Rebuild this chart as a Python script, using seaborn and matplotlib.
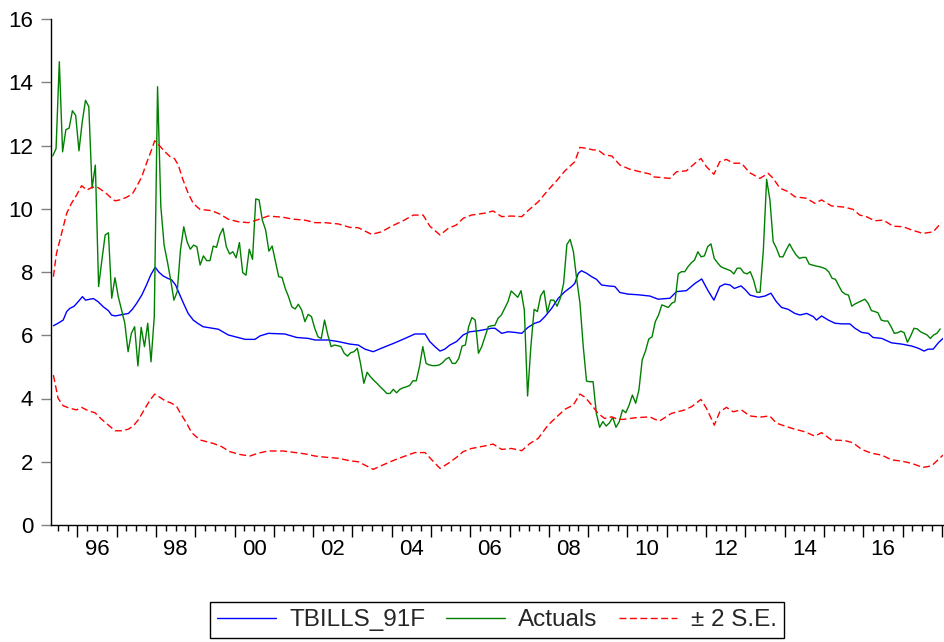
import numpy as np
import pandas as pd
import matplotlib
matplotlib.use("Agg")
import matplotlib.pyplot as plt
import seaborn as sns

# ---------------- data ----------------
# Actuals: monthly, first observation May 1995
actual_start_year = 1995
actual_start_month = 5
actuals = [
    11.67, 11.9, 14.65, 11.8, 12.5, 12.55, 13.1, 12.95, 11.83, 12.75, 13.43, 13.23,
    10.65, 11.38, 7.54, 8.38, 9.17, 9.24, 7.17, 7.82, 7.22, 6.8, 6.38, 5.48,
    6.06, 6.27, 5.03, 6.25, 5.64, 6.38, 5.16, 6.59, 13.86, 10.07, 8.85, 8.33,
    7.75, 7.11, 7.38, 8.7, 9.43, 8.96, 8.72, 8.85, 8.8, 8.22, 8.51, 8.36,
    8.36, 8.82, 8.78, 9.17, 9.38, 8.8, 8.57, 8.64, 8.45, 8.93, 7.98, 7.9,
    8.72, 8.4, 10.31, 10.28, 9.64, 9.33, 8.66, 8.82, 8.33, 7.85, 7.83, 7.48,
    7.22, 6.9, 6.83, 6.98, 6.8, 6.43, 6.66, 6.59, 6.22, 5.95, 5.9, 6.48,
    6.01, 5.64, 5.69, 5.67, 5.64, 5.43, 5.34, 5.45, 5.48, 5.59, 5.1, 4.48,
    4.83, 4.69, 4.58, 4.48, 4.37, 4.27, 4.16, 4.16, 4.29, 4.18, 4.29, 4.34,
    4.37, 4.41, 4.56, 4.56, 5.01, 5.64, 5.11, 5.06, 5.04, 5.04, 5.06, 5.13,
    5.24, 5.30, 5.11, 5.11, 5.27, 5.66, 5.69, 6.27, 6.56, 6.48, 5.43, 5.64,
    5.95, 6.27, 6.30, 6.31, 6.54, 6.64, 6.85, 7.06, 7.40, 7.30, 7.20, 7.41,
    6.80, 4.08, 5.64, 6.82, 6.75, 7.25, 7.41, 6.72, 7.11, 7.11, 6.92, 7.17,
    7.64, 8.87, 9.03, 8.64, 7.77, 7.01, 5.64, 4.55, 4.53, 4.53, 3.53, 3.09,
    3.27, 3.13, 3.23, 3.40, 3.09, 3.27, 3.64, 3.55, 3.79, 4.11, 3.85, 4.27,
    5.22, 5.5, 5.88, 5.95, 6.43, 6.64, 6.96, 6.92, 6.88, 7.01, 7.06, 7.94,
    8.01, 8.01, 8.17, 8.29, 8.38, 8.64, 8.48, 8.51, 8.80, 8.89, 8.43, 8.29,
    8.17, 8.12, 8.08, 8.04, 7.94, 8.12, 8.12, 7.98, 7.94, 8.01, 7.75, 7.36,
    7.36, 8.70, 10.93, 10.28, 8.96, 8.75, 8.48, 8.48, 8.70, 8.89, 8.70, 8.54,
    8.43, 8.46, 8.46, 8.25, 8.22, 8.19, 8.17, 8.14, 8.1, 8.0, 7.80, 7.77,
    7.57, 7.38, 7.30, 7.27, 6.92, 6.99, 7.04, 7.09, 7.14, 7.01, 6.78, 6.75,
    6.71, 6.48, 6.45, 6.45, 6.27, 6.06, 6.08, 6.13, 6.08, 5.78, 5.98, 6.22,
    6.20, 6.11, 6.06, 6.01, 5.90, 6.01, 6.06, 6.2,
]

# Forecast (TBILLS_91F), read at these dates (decimal years)
forecast_t = [
    1995.39, 1995.51, 1995.64, 1995.73, 1995.81, 1995.92, 1996.02, 1996.13, 1996.21, 1996.32,
    1996.41, 1996.53, 1996.66, 1996.79, 1996.87, 1996.96, 1997.04, 1997.17, 1997.30, 1997.40,
    1997.51, 1997.64, 1997.76, 1997.87, 1997.98, 1998.08, 1998.19, 1998.30, 1998.40, 1998.50,
    1998.61, 1998.72, 1998.82, 1998.95, 1999.06, 1999.20, 1999.59, 1999.84, 2000.27, 2000.52,
    2000.65, 2000.86, 2001.28, 2001.58, 2001.88, 2002.05, 2002.38, 2002.64, 2002.94, 2003.15,
    2003.32, 2003.53, 2003.74, 2004.08, 2004.34, 2004.59, 2004.85, 2004.97, 2005.10, 2005.23,
    2005.35, 2005.48, 2005.65, 2005.82, 2005.99, 2006.20, 2006.54, 2006.63, 2006.80, 2006.96,
    2007.14, 2007.31, 2007.47, 2007.64, 2007.77, 2007.90, 2008.07, 2008.24, 2008.41, 2008.58,
    2008.66, 2008.75, 2008.83, 2008.96, 2009.09, 2009.21, 2009.34, 2009.51, 2009.68, 2009.81,
    2010.02, 2010.27, 2010.57, 2010.78, 2011.08, 2011.25, 2011.50, 2011.72, 2011.89, 2012.05,
    2012.20, 2012.35, 2012.48, 2012.61, 2012.72, 2012.89, 2012.99, 2013.12, 2013.33, 2013.50,
    2013.65, 2013.79, 2013.92, 2014.09, 2014.26, 2014.39, 2014.56, 2014.73, 2014.81, 2014.94,
    2015.11, 2015.28, 2015.45, 2015.66, 2015.79, 2015.96, 2016.13, 2016.25, 2016.47, 2016.72,
    2016.98, 2017.23, 2017.40, 2017.55, 2017.65, 2017.78, 2017.91, 2018.03,
]
forecast = [
    6.30, 6.38, 6.48, 6.75, 6.85, 6.92, 7.06, 7.22, 7.11, 7.14,
    7.16, 7.06, 6.90, 6.78, 6.64, 6.61, 6.63, 6.66, 6.69, 6.82,
    7.01, 7.27, 7.59, 7.91, 8.15, 7.99, 7.87, 7.80, 7.75, 7.59,
    7.27, 6.96, 6.69, 6.48, 6.38, 6.27, 6.19, 6.01, 5.87, 5.87,
    5.98, 6.06, 6.04, 5.93, 5.90, 5.85, 5.85, 5.80, 5.72, 5.69,
    5.56, 5.48, 5.59, 5.76, 5.90, 6.04, 6.04, 5.80, 5.64, 5.50,
    5.56, 5.69, 5.80, 6.01, 6.11, 6.14, 6.22, 6.22, 6.06, 6.11,
    6.09, 6.06, 6.25, 6.38, 6.43, 6.59, 6.85, 7.17, 7.38, 7.54,
    7.64, 7.96, 8.04, 7.96, 7.85, 7.77, 7.59, 7.56, 7.54, 7.35,
    7.30, 7.28, 7.24, 7.14, 7.17, 7.38, 7.41, 7.64, 7.78, 7.41,
    7.11, 7.54, 7.62, 7.59, 7.48, 7.56, 7.45, 7.27, 7.20, 7.24,
    7.33, 7.06, 6.88, 6.82, 6.69, 6.64, 6.69, 6.59, 6.48, 6.61,
    6.48, 6.38, 6.36, 6.36, 6.22, 6.09, 6.06, 5.93, 5.90, 5.76,
    5.72, 5.66, 5.59, 5.50, 5.56, 5.56, 5.76, 5.90,
]

# Upper band (+2 S.E.)
upper_t = [
    1995.39, 1995.47, 1995.60, 1995.73, 1995.85, 1995.98, 1996.11, 1996.24, 1996.36, 1996.49,
    1996.62, 1996.75, 1996.87, 1996.96, 1997.08, 1997.25, 1997.40, 1997.51, 1997.64, 1997.76,
    1997.87, 1997.97, 1998.10, 1998.23, 1998.36, 1998.47, 1998.57, 1998.69, 1998.82, 1998.95,
    1999.12, 1999.42, 1999.63, 1999.84, 2000.09, 2000.35, 2000.56, 2000.86, 2001.24, 2001.49,
    2001.79, 2002.05, 2002.30, 2002.64, 2002.94, 2003.15, 2003.49, 2003.74, 2004.00, 2004.29,
    2004.55, 2004.80, 2004.97, 2005.23, 2005.44, 2005.65, 2005.82, 2006.03, 2006.37, 2006.58,
    2006.80, 2007.05, 2007.31, 2007.47, 2007.73, 2007.98, 2008.20, 2008.41, 2008.66, 2008.79,
    2008.96, 2009.13, 2009.25, 2009.42, 2009.60, 2009.81, 2010.06, 2010.32, 2010.57, 2010.65,
    2011.08, 2011.25, 2011.50, 2011.72, 2011.87, 2012.01, 2012.20, 2012.35, 2012.52, 2012.69,
    2012.90, 2013.11, 2013.37, 2013.58, 2013.71, 2013.88, 2014.09, 2014.26, 2014.56, 2014.77,
    2014.94, 2015.19, 2015.53, 2015.74, 2015.91, 2016.08, 2016.29, 2016.51, 2016.76, 2017.02,
    2017.23, 2017.52, 2017.78, 2017.99,
]
upper = [
    7.85, 8.59, 9.22, 9.86, 10.17, 10.43, 10.73, 10.59, 10.67, 10.70,
    10.59, 10.47, 10.33, 10.25, 10.28, 10.36, 10.47, 10.70, 11.01, 11.44,
    11.80, 12.15, 11.98, 11.80, 11.65, 11.59, 11.38, 10.91, 10.49, 10.17,
    9.98, 9.94, 9.83, 9.67, 9.59, 9.56, 9.64, 9.77, 9.73, 9.67,
    9.64, 9.56, 9.56, 9.52, 9.41, 9.40, 9.19, 9.27, 9.45, 9.62,
    9.80, 9.80, 9.45, 9.17, 9.38, 9.49, 9.70, 9.80, 9.86, 9.93,
    9.75, 9.77, 9.75, 9.94, 10.22, 10.59, 10.89, 11.20, 11.49, 11.94,
    11.91, 11.86, 11.86, 11.70, 11.67, 11.38, 11.25, 11.17, 11.10, 11.01,
    10.96, 11.17, 11.20, 11.44, 11.59, 11.33, 11.09, 11.49, 11.56, 11.44,
    11.44, 11.14, 10.96, 11.12, 10.96, 10.65, 10.54, 10.38, 10.33, 10.17,
    10.28, 10.09, 10.05, 9.98, 9.80, 9.75, 9.62, 9.64, 9.45, 9.43,
    9.33, 9.22, 9.27, 9.56,
]

# Lower band (-2 S.E.)
lower_t = [
    1995.39, 1995.51, 1995.64, 1995.81, 1995.98, 1996.11, 1996.28, 1996.45, 1996.62, 1996.79,
    1996.96, 1997.13, 1997.30, 1997.42, 1997.55, 1997.70, 1997.85, 1997.97, 1998.10, 1998.23,
    1998.40, 1998.53, 1998.65, 1998.78, 1998.91, 1999.12, 1999.46, 1999.67, 1999.88, 2000.14,
    2000.39, 2000.60, 2000.86, 2001.24, 2001.49, 2001.79, 2002.05, 2002.34, 2002.64, 2002.94,
    2003.15, 2003.53, 2003.78, 2004.08, 2004.34, 2004.59, 2004.85, 2005.02, 2005.23, 2005.44,
    2005.65, 2005.82, 2006.03, 2006.37, 2006.58, 2006.80, 2007.05, 2007.31, 2007.52, 2007.73,
    2007.98, 2008.20, 2008.41, 2008.62, 2008.79, 2008.92, 2009.09, 2009.25, 2009.42, 2009.60,
    2009.76, 2009.89, 2010.19, 2010.57, 2010.70, 2010.82, 2011.12, 2011.46, 2011.63, 2011.87,
    2012.01, 2012.21, 2012.35, 2012.52, 2012.69, 2012.90, 2013.11, 2013.37, 2013.62, 2013.79,
    2014.05, 2014.26, 2014.51, 2014.77, 2014.94, 2015.19, 2015.53, 2015.74, 2015.96, 2016.21,
    2016.47, 2016.72, 2016.98, 2017.23, 2017.52, 2017.74, 2018.03,
]
lower = [
    4.74, 4.01, 3.77, 3.69, 3.64, 3.72, 3.61, 3.55, 3.34, 3.16,
    2.98, 2.98, 3.03, 3.13, 3.32, 3.64, 3.95, 4.14, 4.04, 3.93,
    3.85, 3.74, 3.48, 3.22, 2.92, 2.69, 2.58, 2.48, 2.32, 2.23,
    2.18, 2.27, 2.34, 2.34, 2.30, 2.25, 2.18, 2.14, 2.11, 2.03,
    2.00, 1.76, 1.90, 2.06, 2.18, 2.29, 2.29, 2.06, 1.79, 1.95,
    2.14, 2.32, 2.42, 2.50, 2.56, 2.39, 2.42, 2.35, 2.58, 2.74,
    3.16, 3.42, 3.66, 3.79, 4.14, 4.04, 3.79, 3.53, 3.37, 3.42,
    3.34, 3.34, 3.39, 3.42, 3.34, 3.29, 3.53, 3.64, 3.74, 3.97,
    3.69, 3.16, 3.58, 3.72, 3.58, 3.64, 3.45, 3.41, 3.45, 3.22,
    3.11, 3.03, 2.95, 2.81, 2.92, 2.69, 2.67, 2.60, 2.39, 2.27,
    2.21, 2.06, 2.02, 1.95, 1.82, 1.87, 2.21,
]

series_labels = ["TBILLS_91F", "Actuals", "\u00b1 2 S.E."]
label_years = [1996, 1998, 2000, 2002, 2004, 2006, 2008, 2010, 2012, 2014, 2016]
year_labels = ["96", "98", "00", "02", "04", "06", "08", "10", "12", "14", "16"]
y_ticks = [0, 2, 4, 6, 8, 10, 12, 14, 16]

# ---------------- styling ----------------
sns.set_theme(style="white")
plt.rcParams["font.family"] = ["Liberation Sans", "DejaVu Sans"]

W, H = 944, 642
PX = 72.0 / 100.0  # points per pixel at dpi 100
fig = plt.figure(figsize=(W / 100, H / 100), dpi=100)
ax = fig.add_axes([51 / W, 1 - 525 / H, 892 / W, 506 / H])

t_act = actual_start_year + (actual_start_month - 1 + 0.5 + np.arange(len(actuals))) / 12.0

def pair(t, v):
    n = min(len(t), len(v))
    return pd.DataFrame({"t": t[:n], "v": v[:n]})

df_f = pair(forecast_t, forecast)
df_a = pd.DataFrame({"t": t_act, "v": actuals})
df_u = pair(upper_t, upper)
df_l = pair(lower_t, lower)

lw = 1.0
sns.lineplot(data=df_f, x="t", y="v", ax=ax, color="#0000FF", lw=lw, estimator=None, sort=False)
sns.lineplot(data=df_a, x="t", y="v", ax=ax, color="#008000", lw=lw, estimator=None, sort=False)
sns.lineplot(data=df_u, x="t", y="v", ax=ax, color="#FF0000", lw=lw, estimator=None, sort=False)
sns.lineplot(data=df_l, x="t", y="v", ax=ax, color="#FF0000", lw=lw, estimator=None, sort=False)

lines = ax.get_lines()
for ln in lines[2:4]:
    ln.set_linestyle((0, (5, 2.5)))

ax.set_xlim(1995.33, 2018.03)
ax.set_ylim(0, 16)
ax.set_xlabel("")
ax.set_ylabel("")

# spines
for s in ["top", "right"]:
    ax.spines[s].set_visible(False)
for s in ["left", "bottom"]:
    ax.spines[s].set_color("black")
    ax.spines[s].set_linewidth(1.0)

# y ticks
ax.set_yticks(y_ticks)
ax.set_yticklabels([str(v) for v in y_ticks], fontsize=16)
ax.tick_params(axis="y", which="major", left=True, length=10 * PX, width=1.0,
               color="#808080", pad=8 * PX, direction="out", labelcolor="black")

# x ticks: year starts (major), quarters (minor), labels centred in even years
ax.set_xticks(list(range(1996, 2019)))
ax.set_xticklabels([])
quarters = [y + q / 4 for y in range(1995, 2018) for q in (1, 2, 3)]
ax.set_xticks([q for q in quarters if 1995.33 <= q <= 2018.03], minor=True)
ax.tick_params(axis="x", which="major", bottom=True, length=12 * PX, width=1.0,
               color="black", direction="out")
ax.tick_params(axis="x", which="minor", bottom=True, length=6 * PX, width=1.0,
               color="black", direction="out")
for yr, lab in zip(label_years, year_labels):
    ax.annotate(lab, xy=(yr + 0.5, 0), xycoords=("data", "axes fraction"),
                xytext=(0, -14), textcoords="offset pixels",
                ha="center", va="top", fontsize=16, color="black",
                annotation_clip=False)

leg = fig.legend(handles=lines[:3], labels=series_labels,
                 loc="center", bbox_to_anchor=(497 / W, 1 - 620 / H),
                 ncol=3, frameon=True, fancybox=False, shadow=False,
                 edgecolor="black", fontsize=17.5, handlelength=2.4,
                 handletextpad=0.56, columnspacing=0.86, borderpad=0.3,
                 borderaxespad=0.0)
leg.get_frame().set_linewidth(1.0)
leg.get_frame().set_facecolor("white")
leg.get_frame().set_alpha(1.0)

fig.savefig("out.png", dpi=100, facecolor="white")
